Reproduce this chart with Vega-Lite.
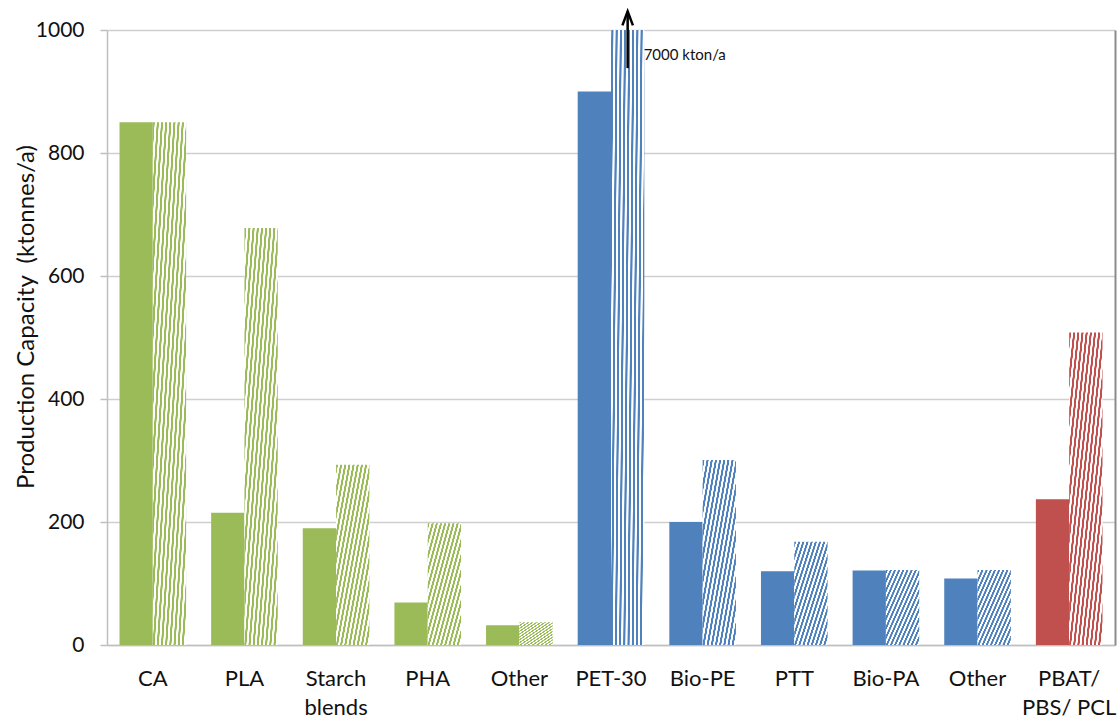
{
  "$schema": "https://vega.github.io/schema/vega-lite/v6.json",
  "width": 1008,
  "height": 615,
  "autosize": {"type": "none"},
  "padding": {"left": 107, "top": 30, "right": 2, "bottom": 75},
  "background": "#ffffff",
  "config": {
    "view": {"stroke": null},
    "font": "Lato",
    "axis": {"labelFont": "Lato", "titleFont": "Lato", "labelColor": "#111111", "titleColor": "#111111", "titleFontWeight": "normal"}
  },
  "data": {
    "values": [
      {"cat": "CA", "group": "Bio-based biodegradable", "series": "current", "value": 850},
      {"cat": "CA", "group": "Bio-based biodegradable", "series": "projected", "value": 850},
      {"cat": "PLA", "group": "Bio-based biodegradable", "series": "current", "value": 215},
      {"cat": "PLA", "group": "Bio-based biodegradable", "series": "projected", "value": 678},
      {"cat": "Starch blends", "group": "Bio-based biodegradable", "series": "current", "value": 190},
      {"cat": "Starch blends", "group": "Bio-based biodegradable", "series": "projected", "value": 293},
      {"cat": "PHA", "group": "Bio-based biodegradable", "series": "current", "value": 69},
      {"cat": "PHA", "group": "Bio-based biodegradable", "series": "projected", "value": 198},
      {"cat": "Other biodegradable", "group": "Bio-based biodegradable", "series": "current", "value": 32},
      {"cat": "Other biodegradable", "group": "Bio-based biodegradable", "series": "projected", "value": 37},
      {"cat": "PET-30", "group": "Bio-based drop-in", "series": "current", "value": 900},
      {"cat": "PET-30", "group": "Bio-based drop-in", "series": "projected", "value": 7000},
      {"cat": "Bio-PE", "group": "Bio-based drop-in", "series": "current", "value": 200},
      {"cat": "Bio-PE", "group": "Bio-based drop-in", "series": "projected", "value": 301},
      {"cat": "PTT", "group": "Bio-based drop-in", "series": "current", "value": 120},
      {"cat": "PTT", "group": "Bio-based drop-in", "series": "projected", "value": 168},
      {"cat": "Bio-PA", "group": "Bio-based drop-in", "series": "current", "value": 121},
      {"cat": "Bio-PA", "group": "Bio-based drop-in", "series": "projected", "value": 122},
      {"cat": "Other drop-in", "group": "Bio-based drop-in", "series": "current", "value": 108},
      {"cat": "Other drop-in", "group": "Bio-based drop-in", "series": "projected", "value": 122},
      {"cat": "PBAT/ PBS/ PCL", "group": "Fossil-based biodegradable", "series": "current", "value": 237},
      {"cat": "PBAT/ PBS/ PCL", "group": "Fossil-based biodegradable", "series": "projected", "value": 508}
    ]
  },
  "layer": [
    {
      "mark": {"type": "bar", "clip": true},
      "encoding": {
        "x": {
          "field": "cat", "type": "nominal", "sort": null,
          "scale": {"paddingInner": 0.273, "paddingOuter": 0.1365},
          "axis": {
            "title": null, "ticks": false, "tickSize": 0, "labelAngle": 0,
            "labelFontSize": 22, "labelPadding": 23, "labelLineHeight": 29,
            "domainColor": "#bfbfbf", "domainWidth": 1.5,
            "labelExpr": "datum.value === 'Starch blends' ? ['Starch', 'blends'] : datum.value === 'PBAT/ PBS/ PCL' ? ['PBAT/', 'PBS/ PCL'] : indexof(datum.value, 'Other') === 0 ? 'Other' : datum.value"
          }
        },
        "xOffset": {"field": "series", "type": "nominal", "sort": ["current", "projected"]},
        "y": {
          "field": "value", "type": "quantitative",
          "scale": {"domain": [0, 1000]},
          "axis": {
            "values": [0, 200, 400, 600, 800, 1000],
            "format": "d",
            "title": "Production Capacity \u00a0(ktonnes/a)",
            "titleFontSize": 24, "titleAngle": 270, "titleBaseline": "alphabetic",
            "titleX": -74, "titleY": 286.5,
            "labelFontSize": 21, "labelPadding": 16,
            "tickSize": 7, "tickColor": "#bfbfbf", "tickWidth": 1.5,
            "domainColor": "#bfbfbf", "domainWidth": 1.5,
            "grid": true, "gridColor": "#cfcfcf", "gridWidth": 1.5
          }
        },
        "fill": {
          "condition": [
            {"test": "datum.series === 'current' && datum.group === 'Bio-based biodegradable'", "value": "#9BBB59"},
            {"test": "datum.series === 'current' && datum.group === 'Bio-based drop-in'", "value": "#4F81BD"},
            {"test": "datum.series === 'current' && datum.group === 'Fossil-based biodegradable'", "value": "#C0504D"},
            {"test": "datum.series === 'projected' && datum.group === 'Bio-based biodegradable'", "value": {"gradient": "linear", "x1": 0, "y1": 0, "x2": 1, "y2": 1, "stops": [
              {"offset": 0, "color": "#9BBB59"}, {"offset": 0.026, "color": "#9BBB59"}, {"offset": 0.031, "color": "#ffffff"}, {"offset": 0.057, "color": "#ffffff"},
              {"offset": 0.0625, "color": "#9BBB59"}, {"offset": 0.0885, "color": "#9BBB59"}, {"offset": 0.0935, "color": "#ffffff"}, {"offset": 0.1195, "color": "#ffffff"},
              {"offset": 0.125, "color": "#9BBB59"}, {"offset": 0.151, "color": "#9BBB59"}, {"offset": 0.156, "color": "#ffffff"}, {"offset": 0.182, "color": "#ffffff"},
              {"offset": 0.1875, "color": "#9BBB59"}, {"offset": 0.2135, "color": "#9BBB59"}, {"offset": 0.2185, "color": "#ffffff"}, {"offset": 0.2445, "color": "#ffffff"},
              {"offset": 0.25, "color": "#9BBB59"}, {"offset": 0.276, "color": "#9BBB59"}, {"offset": 0.281, "color": "#ffffff"}, {"offset": 0.307, "color": "#ffffff"},
              {"offset": 0.3125, "color": "#9BBB59"}, {"offset": 0.3385, "color": "#9BBB59"}, {"offset": 0.3435, "color": "#ffffff"}, {"offset": 0.3695, "color": "#ffffff"},
              {"offset": 0.375, "color": "#9BBB59"}, {"offset": 0.401, "color": "#9BBB59"}, {"offset": 0.406, "color": "#ffffff"}, {"offset": 0.432, "color": "#ffffff"},
              {"offset": 0.4375, "color": "#9BBB59"}, {"offset": 0.4635, "color": "#9BBB59"}, {"offset": 0.4685, "color": "#ffffff"}, {"offset": 0.4945, "color": "#ffffff"},
              {"offset": 0.5, "color": "#9BBB59"}, {"offset": 0.526, "color": "#9BBB59"}, {"offset": 0.531, "color": "#ffffff"}, {"offset": 0.557, "color": "#ffffff"},
              {"offset": 0.5625, "color": "#9BBB59"}, {"offset": 0.5885, "color": "#9BBB59"}, {"offset": 0.5935, "color": "#ffffff"}, {"offset": 0.6195, "color": "#ffffff"},
              {"offset": 0.625, "color": "#9BBB59"}, {"offset": 0.651, "color": "#9BBB59"}, {"offset": 0.656, "color": "#ffffff"}, {"offset": 0.682, "color": "#ffffff"},
              {"offset": 0.6875, "color": "#9BBB59"}, {"offset": 0.7135, "color": "#9BBB59"}, {"offset": 0.7185, "color": "#ffffff"}, {"offset": 0.7445, "color": "#ffffff"},
              {"offset": 0.75, "color": "#9BBB59"}, {"offset": 0.776, "color": "#9BBB59"}, {"offset": 0.781, "color": "#ffffff"}, {"offset": 0.807, "color": "#ffffff"},
              {"offset": 0.8125, "color": "#9BBB59"}, {"offset": 0.8385, "color": "#9BBB59"}, {"offset": 0.8435, "color": "#ffffff"}, {"offset": 0.8695, "color": "#ffffff"},
              {"offset": 0.875, "color": "#9BBB59"}, {"offset": 0.901, "color": "#9BBB59"}, {"offset": 0.906, "color": "#ffffff"}, {"offset": 0.932, "color": "#ffffff"},
              {"offset": 0.9375, "color": "#9BBB59"}, {"offset": 0.9635, "color": "#9BBB59"}, {"offset": 0.9685, "color": "#ffffff"}, {"offset": 1, "color": "#ffffff"}
            ]}},
            {"test": "datum.series === 'projected' && datum.group === 'Bio-based drop-in'", "value": {"gradient": "linear", "x1": 0, "y1": 0, "x2": 1, "y2": 1, "stops": [
              {"offset": 0, "color": "#4F81BD"}, {"offset": 0.026, "color": "#4F81BD"}, {"offset": 0.031, "color": "#ffffff"}, {"offset": 0.057, "color": "#ffffff"},
              {"offset": 0.0625, "color": "#4F81BD"}, {"offset": 0.0885, "color": "#4F81BD"}, {"offset": 0.0935, "color": "#ffffff"}, {"offset": 0.1195, "color": "#ffffff"},
              {"offset": 0.125, "color": "#4F81BD"}, {"offset": 0.151, "color": "#4F81BD"}, {"offset": 0.156, "color": "#ffffff"}, {"offset": 0.182, "color": "#ffffff"},
              {"offset": 0.1875, "color": "#4F81BD"}, {"offset": 0.2135, "color": "#4F81BD"}, {"offset": 0.2185, "color": "#ffffff"}, {"offset": 0.2445, "color": "#ffffff"},
              {"offset": 0.25, "color": "#4F81BD"}, {"offset": 0.276, "color": "#4F81BD"}, {"offset": 0.281, "color": "#ffffff"}, {"offset": 0.307, "color": "#ffffff"},
              {"offset": 0.3125, "color": "#4F81BD"}, {"offset": 0.3385, "color": "#4F81BD"}, {"offset": 0.3435, "color": "#ffffff"}, {"offset": 0.3695, "color": "#ffffff"},
              {"offset": 0.375, "color": "#4F81BD"}, {"offset": 0.401, "color": "#4F81BD"}, {"offset": 0.406, "color": "#ffffff"}, {"offset": 0.432, "color": "#ffffff"},
              {"offset": 0.4375, "color": "#4F81BD"}, {"offset": 0.4635, "color": "#4F81BD"}, {"offset": 0.4685, "color": "#ffffff"}, {"offset": 0.4945, "color": "#ffffff"},
              {"offset": 0.5, "color": "#4F81BD"}, {"offset": 0.526, "color": "#4F81BD"}, {"offset": 0.531, "color": "#ffffff"}, {"offset": 0.557, "color": "#ffffff"},
              {"offset": 0.5625, "color": "#4F81BD"}, {"offset": 0.5885, "color": "#4F81BD"}, {"offset": 0.5935, "color": "#ffffff"}, {"offset": 0.6195, "color": "#ffffff"},
              {"offset": 0.625, "color": "#4F81BD"}, {"offset": 0.651, "color": "#4F81BD"}, {"offset": 0.656, "color": "#ffffff"}, {"offset": 0.682, "color": "#ffffff"},
              {"offset": 0.6875, "color": "#4F81BD"}, {"offset": 0.7135, "color": "#4F81BD"}, {"offset": 0.7185, "color": "#ffffff"}, {"offset": 0.7445, "color": "#ffffff"},
              {"offset": 0.75, "color": "#4F81BD"}, {"offset": 0.776, "color": "#4F81BD"}, {"offset": 0.781, "color": "#ffffff"}, {"offset": 0.807, "color": "#ffffff"},
              {"offset": 0.8125, "color": "#4F81BD"}, {"offset": 0.8385, "color": "#4F81BD"}, {"offset": 0.8435, "color": "#ffffff"}, {"offset": 0.8695, "color": "#ffffff"},
              {"offset": 0.875, "color": "#4F81BD"}, {"offset": 0.901, "color": "#4F81BD"}, {"offset": 0.906, "color": "#ffffff"}, {"offset": 0.932, "color": "#ffffff"},
              {"offset": 0.9375, "color": "#4F81BD"}, {"offset": 0.9635, "color": "#4F81BD"}, {"offset": 0.9685, "color": "#ffffff"}, {"offset": 1, "color": "#ffffff"}
            ]}},
            {"test": "datum.series === 'projected' && datum.group === 'Fossil-based biodegradable'", "value": {"gradient": "linear", "x1": 0, "y1": 0, "x2": 1, "y2": 1, "stops": [
              {"offset": 0, "color": "#C0504D"}, {"offset": 0.026, "color": "#C0504D"}, {"offset": 0.031, "color": "#ffffff"}, {"offset": 0.057, "color": "#ffffff"},
              {"offset": 0.0625, "color": "#C0504D"}, {"offset": 0.0885, "color": "#C0504D"}, {"offset": 0.0935, "color": "#ffffff"}, {"offset": 0.1195, "color": "#ffffff"},
              {"offset": 0.125, "color": "#C0504D"}, {"offset": 0.151, "color": "#C0504D"}, {"offset": 0.156, "color": "#ffffff"}, {"offset": 0.182, "color": "#ffffff"},
              {"offset": 0.1875, "color": "#C0504D"}, {"offset": 0.2135, "color": "#C0504D"}, {"offset": 0.2185, "color": "#ffffff"}, {"offset": 0.2445, "color": "#ffffff"},
              {"offset": 0.25, "color": "#C0504D"}, {"offset": 0.276, "color": "#C0504D"}, {"offset": 0.281, "color": "#ffffff"}, {"offset": 0.307, "color": "#ffffff"},
              {"offset": 0.3125, "color": "#C0504D"}, {"offset": 0.3385, "color": "#C0504D"}, {"offset": 0.3435, "color": "#ffffff"}, {"offset": 0.3695, "color": "#ffffff"},
              {"offset": 0.375, "color": "#C0504D"}, {"offset": 0.401, "color": "#C0504D"}, {"offset": 0.406, "color": "#ffffff"}, {"offset": 0.432, "color": "#ffffff"},
              {"offset": 0.4375, "color": "#C0504D"}, {"offset": 0.4635, "color": "#C0504D"}, {"offset": 0.4685, "color": "#ffffff"}, {"offset": 0.4945, "color": "#ffffff"},
              {"offset": 0.5, "color": "#C0504D"}, {"offset": 0.526, "color": "#C0504D"}, {"offset": 0.531, "color": "#ffffff"}, {"offset": 0.557, "color": "#ffffff"},
              {"offset": 0.5625, "color": "#C0504D"}, {"offset": 0.5885, "color": "#C0504D"}, {"offset": 0.5935, "color": "#ffffff"}, {"offset": 0.6195, "color": "#ffffff"},
              {"offset": 0.625, "color": "#C0504D"}, {"offset": 0.651, "color": "#C0504D"}, {"offset": 0.656, "color": "#ffffff"}, {"offset": 0.682, "color": "#ffffff"},
              {"offset": 0.6875, "color": "#C0504D"}, {"offset": 0.7135, "color": "#C0504D"}, {"offset": 0.7185, "color": "#ffffff"}, {"offset": 0.7445, "color": "#ffffff"},
              {"offset": 0.75, "color": "#C0504D"}, {"offset": 0.776, "color": "#C0504D"}, {"offset": 0.781, "color": "#ffffff"}, {"offset": 0.807, "color": "#ffffff"},
              {"offset": 0.8125, "color": "#C0504D"}, {"offset": 0.8385, "color": "#C0504D"}, {"offset": 0.8435, "color": "#ffffff"}, {"offset": 0.8695, "color": "#ffffff"},
              {"offset": 0.875, "color": "#C0504D"}, {"offset": 0.901, "color": "#C0504D"}, {"offset": 0.906, "color": "#ffffff"}, {"offset": 0.932, "color": "#ffffff"},
              {"offset": 0.9375, "color": "#C0504D"}, {"offset": 0.9635, "color": "#C0504D"}, {"offset": 0.9685, "color": "#ffffff"}, {"offset": 1, "color": "#ffffff"}
            ]}}
          ],
          "value": "#999999"
        }
      }
    },
    {
      "data": {"values": [{"cat": "PET-30", "series": "projected", "from": 938, "to": 1030}]},
      "mark": {"type": "rule", "color": "#000000", "strokeWidth": 2.5, "clip": false},
      "encoding": {
        "x": {"field": "cat", "type": "nominal", "sort": null},
        "xOffset": {"field": "series", "type": "nominal", "sort": ["current", "projected"]},
        "y": {
          "field": "from", "type": "quantitative", "scale": {"domain": [0, 1000]},
          "axis": {"orient": "right", "labels": false, "ticks": false, "grid": false, "title": null, "domain": true, "domainColor": "#8c8c8c", "domainWidth": 2}
        },
        "y2": {"field": "to"}
      }
    },
    {
      "data": {"values": [{"cat": "PET-30", "series": "projected", "tip": 1019}]},
      "mark": {"type": "point", "shape": "M-0.75,1L0,-1L0.75,1", "filled": false, "stroke": "#000000", "strokeWidth": 2.5, "size": 196, "opacity": 1, "clip": false},
      "encoding": {
        "x": {"field": "cat", "type": "nominal", "sort": null},
        "xOffset": {"field": "series", "type": "nominal", "sort": ["current", "projected"]},
        "y": {"field": "tip", "type": "quantitative", "scale": {"domain": [0, 1000]}, "axis": null}
      }
    },
    {
      "data": {"values": [{"cat": "PET-30", "series": "projected", "pos": 960, "label": "7000 kton/a"}]},
      "mark": {"type": "text", "align": "left", "baseline": "middle", "dx": 16, "fontSize": 15, "font": "Lato", "color": "#111111", "clip": false},
      "encoding": {
        "x": {"field": "cat", "type": "nominal", "sort": null},
        "xOffset": {"field": "series", "type": "nominal", "sort": ["current", "projected"]},
        "y": {"field": "pos", "type": "quantitative", "scale": {"domain": [0, 1000]}, "axis": null},
        "text": {"field": "label"}
      }
    }
  ],
  "resolve": {"axis": {"y": "independent"}}
}
